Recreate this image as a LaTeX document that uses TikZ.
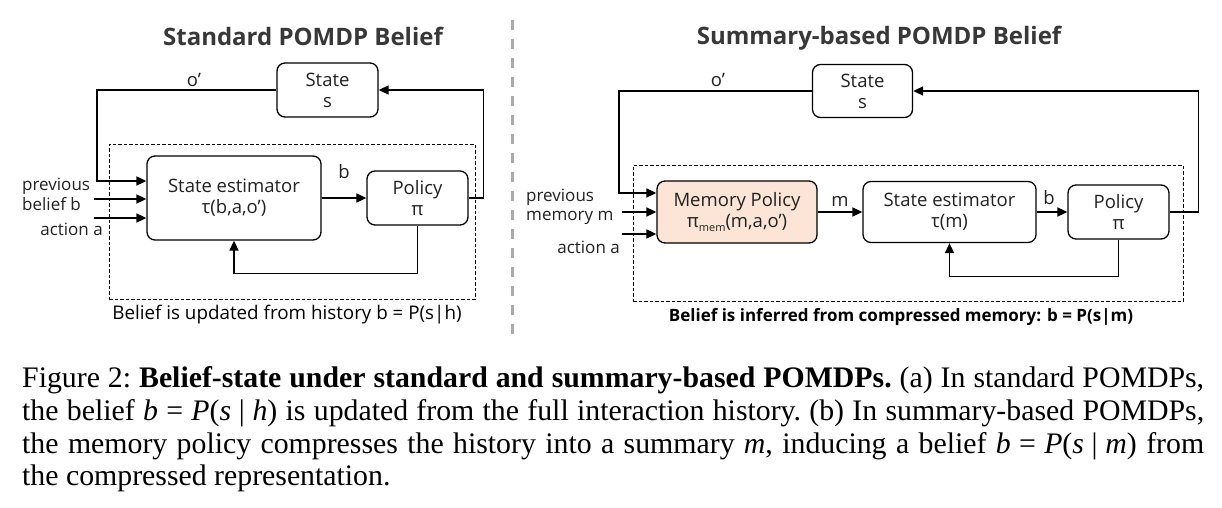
\documentclass[tikz,border=0pt]{standalone}
\usepackage{fontspec}
\setmainfont{Liberation Serif}
\newfontfamily\diag{Open Sans}
\usetikzlibrary{arrows.meta}
\definecolor{peach}{RGB}{252,229,214}
\definecolor{ink}{RGB}{34,34,34}
\definecolor{sepgray}{RGB}{170,170,170}
\newcommand{\relsp}{\hspace{0.28em}}
\newcommand{\midsp}{\hspace{0.26em}}
\begin{document}
\begin{tikzpicture}[x=1pt,y=-1pt,
  box/.style={draw=black, line width=1.3pt, rounded corners=8pt, inner sep=0pt,
    align=center, text=ink, font=\diag\fontsize{18.5}{21}\selectfont},
  lbl/.style={inner sep=0pt, text=ink, font=\diag\fontsize{18.5}{21}\selectfont},
  side/.style={inner sep=0pt, text=ink, font=\diag\fontsize{17}{20}\selectfont},
  ttl/.style={inner sep=0pt, text=ink!90, font=\diag\bfseries\fontsize{24}{28}\selectfont},
  sub/.style={inner sep=0pt, text=black, font=\diag\fontsize{18.8}{22}\selectfont},
  subb/.style={inner sep=0pt, text=black, font=\diag\bfseries\fontsize{17}{20}\selectfont},
  frame/.style={draw=black, line width=0.8pt, dash pattern=on 3.5pt off 2pt, inner sep=0pt},
  arr/.style={line width=1.6pt, draw=black, -{Triangle[length=10pt,width=9pt]}},
  sep/.style={draw=sepgray, line width=3pt, dash pattern=on 10pt off 9pt}]
\useasboundingbox[fill=white] (0,0) rectangle (1222,508);

% ---------------- left panel ----------------
\node[ttl] (tL) at (303,36) {Standard POMDP Belief};
\node[frame, minimum width=366pt, minimum height=155pt] (frL) at (292,221.5) {};
\node[box, minimum width=101pt, minimum height=54pt] (stL) at (327.5,90) {State\\s};
\node[box, minimum width=174pt, minimum height=84pt] (esL) at (234,198) {State estimator\\τ(b,a,o’)};
\node[box, minimum width=101pt, minimum height=54pt] (poL) at (417.5,198) {Policy\\π};
\node[lbl] (oL) at (194,80) {o’};
\node[lbl] (bL) at (344,172) {b};
\node[side, anchor=base west] (pvL) at (22,190) {previous};
\node[side, anchor=base west] (blL) at (22,210) {belief b};
\node[side, anchor=base east] (acL) at (103,235) {action a};
\node[sub] (cpL) at (287,315) {Belief is updated from history b = P(s|h)};
\coordinate (cL1) at (97,181);
\coordinate (cL2) at (94,199);
\coordinate (cL3) at (94,218);
\draw[arr] (stL.west) -| (cL1) -- (cL1 -| esL.west);
\draw[arr] (cL2) -- (cL2 -| esL.west);
\draw[arr] (cL3) -- (cL3 -| esL.west);
\draw[arr] (esL) -- (poL);
\draw[arr] (poL.east) -- ++(15,0) |- (stL.east);
\draw[arr] (poL.south) -- ++(0,48) -| (esL.south);

% separator
\coordinate (sp1) at (512,20);
\coordinate (sp2) at (512,338);
\draw[sep] (sp1) -- (sp2);

% ---------------- right panel ----------------
\node[ttl] (tR) at (879,38) {Summary-based POMDP Belief};
\node[frame, minimum width=550pt, minimum height=136pt] (frR) at (908,233) {};
\node[box, minimum width=100pt, minimum height=53pt] (stR) at (862.5,91) {State\\s};
\node[box, fill=peach, minimum width=160pt, minimum height=62pt] (meR) at (737,212)
  {Memory Policy\\π\raisebox{-4pt}{\fontsize{11}{11}\selectfont mem}(m,a,o’)};
\node[box, minimum width=173pt, minimum height=61pt] (esR) at (949.5,212) {State estimator\\τ(m)};
\node[box, minimum width=101pt, minimum height=54pt] (poR) at (1118.5,212) {Policy\\π};
\node[lbl] (oR) at (718,80) {o’};
\node[lbl] (mR) at (840,201) {m};
\node[lbl] (bR) at (1049,198) {b};
\node[side, anchor=base west] (pvR) at (526,201) {previous};
\node[side, anchor=base west] (mmR) at (526,220) {memory m};
\node[side, anchor=base east] (acR) at (620,253) {action a};
\node[subb] (cpR) at (901,317)
  {Belief is inferred from compressed memory: b = P(s|m)};
\coordinate (cR1) at (619,193);
\coordinate (cR2) at (622,212);
\coordinate (cR3) at (622,234);
\draw[arr] (stR.west) -| (cR1) -- (cR1 -| meR.west);
\draw[arr] (cR2) -- (cR2 -| meR.west);
\draw[arr] (cR3) -- (cR3 -| meR.west);
\draw[arr] (meR) -- (esR);
\draw[arr] (esR) -- (poR);
\draw[arr] (poR.east) -- ++(29,0) |- (stR.east);
\draw[arr] (poR.south) -- ++(0,37) -| (esR.south);

% ---------------- caption ----------------
\node[anchor=north west, inner sep=0pt, text width=1182pt, align=justify,
  font=\fontsize{29.8}{32.7}\selectfont\frenchspacing] (cap) at (22,366.5)
  {Figure 2: \textbf{Belief-state under standard and summary-based POMDPs.} (a) In standard POMDPs,\linebreak
   the belief \textit{b}\relsp=\relsp\textit{P}(\textit{s}\midsp|\midsp\textit{h}) is updated from the full interaction history. (b) In summary-based POMDPs,\linebreak
   the memory policy compresses the history into a summary \textit{m}, inducing a belief \textit{b}\relsp=\relsp\textit{P}(\textit{s}\midsp|\midsp\textit{m}) from\linebreak
   the compressed representation.};
\end{tikzpicture}
\end{document}
